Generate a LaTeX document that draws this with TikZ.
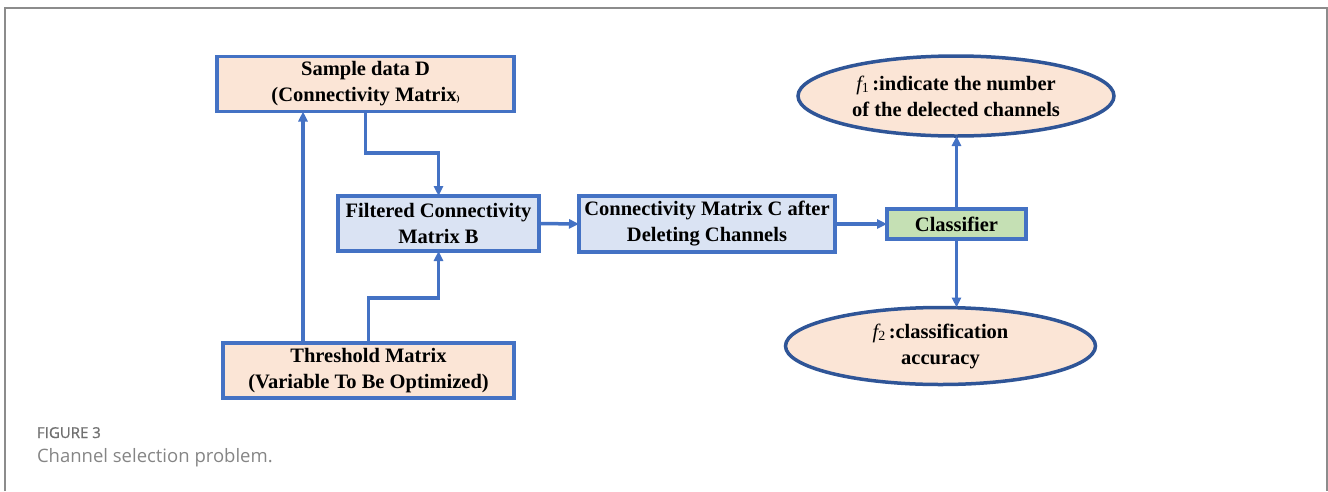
\documentclass[tikz,border=0pt]{standalone}
\usepackage{fontspec}
\setmainfont{Liberation Serif}
\newfontfamily\capfont{Open Sans}
\newfontfamily\capfigfont[FakeBold=0.8]{Open Sans}
\usetikzlibrary{positioning}
\usetikzlibrary{shapes.geometric,arrows.meta,calc}
\definecolor{boxline}{RGB}{68,114,196}
\definecolor{ovalline}{RGB}{47,85,151}
\definecolor{orangefill}{RGB}{251,229,214}
\definecolor{bluefill}{RGB}{218,227,243}
\definecolor{greenfill}{RGB}{197,224,180}
\definecolor{capgray}{RGB}{112,112,112}
\definecolor{framegray}{RGB}{140,140,140}

\newcommand{\fsub}[1]{{\mdseries\itshape f}\raisebox{-0.25ex}{\mdseries\fontsize{14}{14}\selectfont #1}}

\begin{document}
\begin{tikzpicture}[x=1pt, y=-1pt, outer sep=0pt,
  blk/.style={draw=boxline, line width=3.5pt, inner sep=0pt, align=center,
    font=\fontsize{20.5}{26}\selectfont\bfseries},
  oval/.style={ellipse, draw=ovalline, fill=orangefill, line width=3.5pt, inner sep=0pt,
    align=center, font=\fontsize{20.5}{26}\selectfont\bfseries},
  link/.style={boxline, line width=3.5pt, -{Triangle[length=10pt,width=9pt]}}]

%\draw[step=50, gray!20, very thin] (0,0) grid (1328,491);
\useasboundingbox (0,0) rectangle (1328,491);

\draw[framegray, line width=1.5pt] (5,491) -- (5,8) -- (1327,8) -- (1327,491);

\coordinate (up1) at (303,0);

\node[blk, fill=orangefill, minimum width=297, minimum height=55] (D) at (365.5,84)
  {Sample data D\\(Connectivity Matrix{\fontsize{9}{9}\selectfont)}};
\node[blk, fill=bluefill, minimum width=201, minimum height=55] (B) at (438.5,223.5)
  {Filtered Connectivity\\Matrix B};
\node[blk, fill=orangefill, minimum width=291, minimum height=55] (T) at (368.5,370.5)
  {Threshold Matrix\\(Variable To Be Optimized)};
\node[blk, fill=bluefill, minimum width=256, minimum height=56] (C) at (707,224)
  {Connectivity Matrix C after\\Deleting Channels};
\node[blk, fill=greenfill, minimum width=139, minimum height=30] (cls) at (956.5,224)
  {Classifier};
\node[oval, minimum width=316, minimum height=80] (f1) at (956,96)
  {\fsub{1}\,:indicate the number\\of the delected channels};
\node[oval, minimum width=310, minimum height=77] (f2) at (940.5,346)
  {\fsub{2}\,:classification\\accuracy};

\draw[link] (D.south) -- ++(0,41.5) -| (B.north);
\draw[link] (T.north -| up1) -- (D.south -| up1);
\draw[link] (T.north) -- ++(0,-45) -| (B.south);
\draw[link] (B.east) -- (C.west);
\draw[link] (C.east) -- (cls.west);
\draw[link] (cls.north) -- (f1.south -| cls.north);
\draw[link] (cls.south) -- (f2.north -| cls.south);

\node[anchor=base west, inner sep=0pt, text=capgray, font=\capfigfont\fontsize{15}{17}\selectfont] (fig) at (37,438) {FIGURE 3};
\node[anchor=base west, inner sep=0pt, text=capgray!85, font=\capfont\fontsize{18.5}{20}\selectfont] (cap) at (37,462) {Channel selection problem.};

\end{tikzpicture}
\end{document}
